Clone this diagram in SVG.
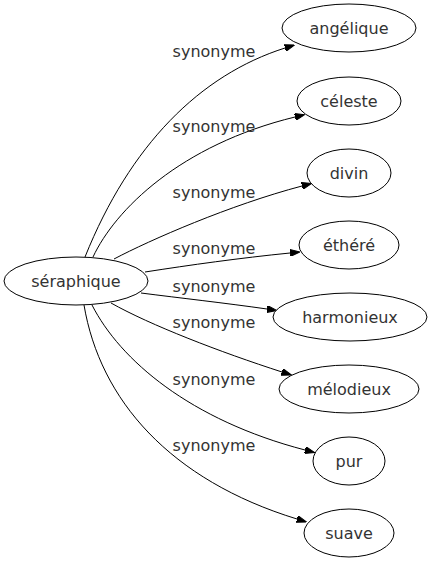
<svg xmlns="http://www.w3.org/2000/svg" width="431" height="563" viewBox="0 0 431 563">
<style>
.node ellipse{fill:#fff;stroke:#000;stroke-width:1}
text{font-family:"DejaVu Sans",sans-serif;font-size:16px;fill:#333;text-anchor:middle}
.edges path{fill:none;stroke:#000;stroke-width:1;marker-end:url(#arr)}
</style>
<defs>
<marker id="arr" viewBox="0 0 10 7" refX="0" refY="3.5" markerWidth="10" markerHeight="7" markerUnits="userSpaceOnUse" orient="auto">
<path d="M0,0 L10,3.5 L0,7 z" fill="#000" stroke="#000"/>
</marker>
</defs>
<rect width="431" height="563" fill="#fff"/>
<g class="edges" id="edges">
<path d="M85,257 C130,145 200,75 285,48"/>
<path d="M93,257 C115,210 180,145 295,117"/>
<path d="M114,259 C150,240 230,205 302,186"/>
<path d="M145,272 C190,265 240,258 290,253"/>
<path d="M141,293 C180,298 225,303 267,309"/>
<path d="M111,303 C150,325 220,352 282,372"/>
<path d="M92,305 C120,360 190,420 305,450"/>
<path d="M84,305 C100,400 170,480 297,519"/>
</g>
<g id="labels">
<text x="214" y="57">synonyme</text>
<text x="214" y="132">synonyme</text>
<text x="214" y="198">synonyme</text>
<text x="214" y="254">synonyme</text>
<text x="214" y="292">synonyme</text>
<text x="214" y="328">synonyme</text>
<text x="214" y="385">synonyme</text>
<text x="214" y="451">synonyme</text>
</g>
<g class="node" id="seraphique"><ellipse cx="76" cy="281" rx="72" ry="24"/><text x="76" y="286.5">séraphique</text></g>
<g class="node" id="angelique"><ellipse cx="349" cy="28" rx="67" ry="24"/><text x="349" y="33.5">angélique</text></g>
<g class="node" id="celeste"><ellipse cx="349" cy="101" rx="52" ry="24"/><text x="349" y="106.5">céleste</text></g>
<g class="node" id="divin"><ellipse cx="349" cy="173" rx="42" ry="24"/><text x="349" y="178.5">divin</text></g>
<g class="node" id="ethere"><ellipse cx="349" cy="245" rx="50" ry="24"/><text x="349" y="250.5">éthéré</text></g>
<g class="node" id="harmonieux"><ellipse cx="350" cy="317" rx="77" ry="24"/><text x="350" y="322.5">harmonieux</text></g>
<g class="node" id="melodieux"><ellipse cx="349" cy="389" rx="70" ry="24"/><text x="349" y="394.5">mélodieux</text></g>
<g class="node" id="pur"><ellipse cx="349" cy="461" rx="36" ry="24"/><text x="349" y="466.5">pur</text></g>
<g class="node" id="suave"><ellipse cx="349" cy="533" rx="45" ry="24"/><text x="349" y="538.5">suave</text></g>
</svg>
